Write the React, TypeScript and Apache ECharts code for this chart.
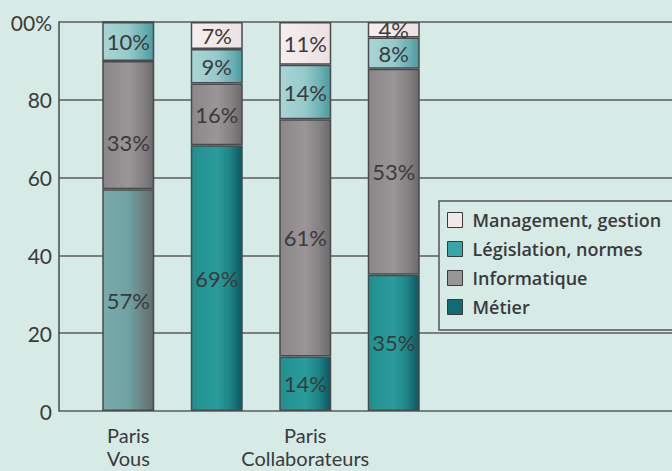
import React, { useEffect, useRef } from "react";
import * as echarts from "echarts";

const categoryLabels = ["Paris\nVous", "", "Paris\nCollaborateurs", ""];
const metier = [57, 69, 14, 35];
const informatique = [33, 16, 61, 53];
const legislation = [10, 9, 14, 8];
const management = [0, 7, 11, 4];
const yTickLabels = ["0", "20", "40", "60", "80", "00%"];
const seriesNames = ["Métier", "Informatique", "Législation, normes", "Management, gestion"];

const BG = "#d6ebe5";
const TXT = "#3a3a3c";

function hgrad(stops: [number, string][]) {
  return new echarts.graphic.LinearGradient(
    0, 0, 1, 0,
    stops.map(([offset, color]) => ({ offset, color }))
  );
}

export default function App() {
  const ref = useRef<HTMLDivElement>(null);
  useEffect(() => {
    if (!ref.current) return;
    const chart = echarts.init(ref.current, undefined, { renderer: "svg" });
    const raw = [metier, informatique, legislation, management];
    const totals = metier.map((_, i) => raw.reduce((s, a) => s + a[i], 0));
    const fills = [
      hgrad([[0, "#20908f"], [0.5, "#2a9c9b"], [0.75, "#1f8686"], [1, "#0b5762"]]),
      hgrad([[0, "#8b8788"], [0.5, "#9a9697"], [0.8, "#838081"], [1, "#6c696c"]]),
      hgrad([[0, "#a9d5d5"], [0.5, "#96caca"], [0.8, "#6cb0b3"], [1, "#4a9ba1"]]),
      hgrad([[0, "#f6eeee"], [1, "#ece1e2"]]),
    ];
    const legendColors = ["#0d6c74", "#9a9596", "#38a6a6", "#f2e8e8"];
    const firstMetier = hgrad([[0, "#78abaa"], [0.5, "#6fa2a2"], [1, "#666b6e"]]);

    const series = raw.map((arr, si) => ({
      name: seriesNames[si],
      type: "bar",
      stack: "total",
      xAxisIndex: 0,
      yAxisIndex: 0,
      barWidth: 52,
      itemStyle: { color: fills[si], borderColor: "#4a4a4c", borderWidth: 1.5 },
      label: {
        show: true,
        position: "inside",
        fontFamily: "Lato",
        fontSize: 22,
        lineHeight: 18,
        color: TXT,
        formatter: (p: any) => (arr[p.dataIndex] ? arr[p.dataIndex] + "%" : ""),
      },
      data: arr.map((v, i) => {
        const item: any = { value: (v / totals[i]) * 100 };
        if (si === 0 && i === 0) item.itemStyle = { color: firstMetier };
        if (si === 1 && i === 0) item.label = { offset: [0, 17] };
        return item;
      }),
    }));

    chart.setOption({
      animation: false,
      backgroundColor: BG,
      grid: [
        { left: 84, width: 354, top: 22, height: 389, outerBoundsMode: "none", containLabel: false },
        { left: 59, right: 0, top: 22, height: 389, outerBoundsMode: "none", containLabel: false },
      ],
      xAxis: [
        {
          type: "category",
          gridIndex: 0,
          data: categoryLabels,
          axisLine: { show: false },
          axisTick: { show: false },
          axisLabel: {
            interval: 0,
            margin: 12,
            fontFamily: "Lato",
            fontSize: 20,
            lineHeight: 23,
            color: TXT,
          },
        },
        { type: "value", gridIndex: 1, min: 0, max: 1, show: false },
      ],
      yAxis: [
        { type: "value", gridIndex: 0, min: 0, max: 100, show: false },
        {
          type: "value",
          gridIndex: 1,
          min: 0,
          max: 100,
          interval: 20,
          axisLine: { show: true, lineStyle: { color: "#4a4a4c", width: 1.5 } },
          axisTick: { show: false },
          splitLine: { show: true, lineStyle: { color: "#5a5a5c", width: 1.5 } },
          axisLabel: {
            margin: 7,
            fontFamily: "Lato",
            fontSize: 21,
            color: TXT,
            formatter: (v: number) => yTickLabels[Math.round(v / 20)],
          },
        },
      ],
      legend: {
        orient: "vertical",
        left: 439,
        top: 201,
        backgroundColor: BG,
        borderColor: "#555",
        borderWidth: 1.5,
        borderRadius: 0,
        padding: [10, 40, 14, 8],
        itemWidth: 15,
        itemHeight: 15,
        itemGap: 11,
        icon: "rect",
        itemStyle: { borderColor: "#3a3a3c", borderWidth: 1 },
        textStyle: {
          fontFamily: "Open Sans",
          fontSize: 18,
          fontWeight: 600,
          color: TXT,
          lineHeight: 15,
          padding: [0, 0, 0, 5],
        },
        data: [3, 2, 1, 0].map((i) => ({
          name: seriesNames[i],
          itemStyle: { color: legendColors[i] },
        })),
      },
      series,
    });
    return () => chart.dispose();
  }, []);
  return (
    <div
      ref={ref}
      style={{ position: "fixed", left: 0, top: 0, width: 672, height: 471, background: BG }}
    />
  );
}
